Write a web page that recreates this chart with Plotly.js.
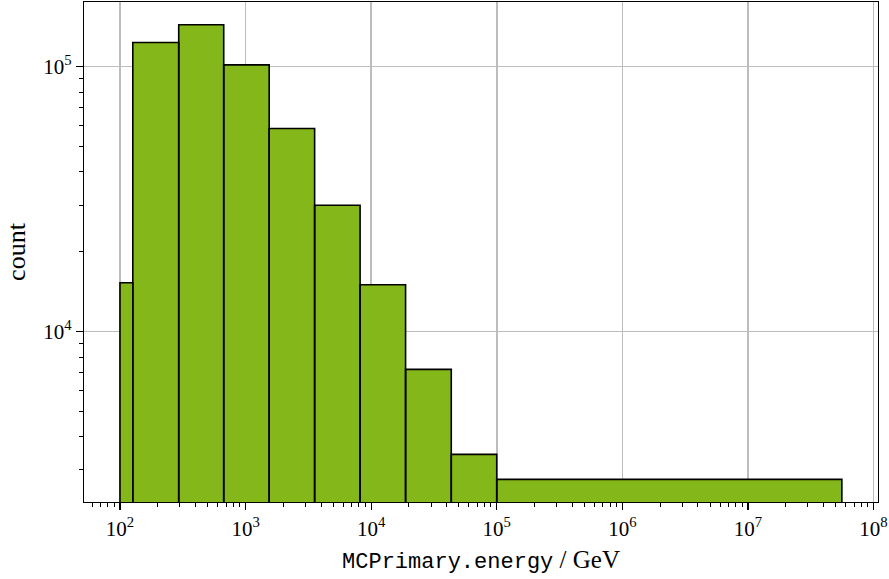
<!DOCTYPE html>
<html>
<head>
<meta charset="utf-8">
<script src="https://cdn.plot.ly/plotly-3.0.1.min.js"></script>
<style>
  html, body { margin: 0; padding: 0; background: #ffffff; }
  #chart { width: 889px; height: 579px; }
</style>
</head>
<body>
<div id="chart"></div>
<script>
// Histogram of primary energies: bin edges (GeV) and the count in each bin
const binEdges = [100, 126.5, 293.6, 670, 1542, 3548, 8166, 18800, 43450, 100000, 56000000];
const binCounts = [15260, 123200, 143900, 101500, 58350, 29970, 15000, 7190, 3434, 2764];

// Decade tick positions and their labels
const xTickVals = [1e2, 1e3, 1e4, 1e5, 1e6, 1e7, 1e8];
const xTickText = ['10<sup>2</sup>', '10<sup>3</sup>', '10<sup>4</sup>', '10<sup>5</sup>',
                   '10<sup>6</sup>', '10<sup>7</sup>', '10<sup>8</sup>'];
const yTickVals = [1e4, 1e5];
const yTickText = ['10<sup>4</sup>', '10<sup>5</sup>'];

// Each bin becomes a closed step outline; segments separated by null gaps
const floorY = 1;  // below the visible range, so bars reach the axis
const bx = [], by = [];
for (let i = 0; i < binCounts.length; i++) {
  const x0 = binEdges[i], x1 = binEdges[i + 1], c = binCounts[i];
  bx.push(x0, x0, x1, x1, x0, null);
  by.push(floorY, c, c, floorY, floorY, null);
}

const serif = 'Liberation Serif, Times New Roman, serif';
const mono = 'Liberation Mono, DejaVu Sans Mono, monospace';

const bars = {
  type: 'scatter',
  mode: 'lines',
  x: bx,
  y: by,
  fill: 'toself',
  fillcolor: '#84b71a',
  line: { color: '#000000', width: 1.6 },
  connectgaps: false,
  hoverinfo: 'skip',
  showlegend: false
};

const axisCommon = {
  type: 'log',
  showline: true,
  linecolor: '#000000',
  linewidth: 1.3,
  mirror: true,
  ticks: 'outside',
  ticklen: 7,
  tickwidth: 1.2,
  tickcolor: '#000000',
  showgrid: true,
  gridcolor: '#bdbdbd',
  gridwidth: 1.6,
  zeroline: false,
  tickmode: 'array',
  tickfont: { family: serif, size: 21, color: '#000000' },
  minor: {
    ticks: 'outside',
    ticklen: 4,
    tickwidth: 1,
    tickcolor: '#000000',
    showgrid: false,
    dtick: 'D1'
  }
};

const layout = {
  width: 889,
  height: 579,
  margin: { l: 84, r: 10.5, t: 2, b: 77 },
  paper_bgcolor: '#ffffff',
  plot_bgcolor: '#ffffff',
  xaxis: Object.assign({}, axisCommon, {
    range: [1.7135, 8.036],
    tickvals: xTickVals,
    ticktext: xTickText,
    title: {
      text: '<span style="font-family:' + mono + ';font-size:22px">MCPrimary.energy</span> / GeV',
      font: { family: serif, size: 25, color: '#000000' },
      standoff: 11
    }
  }),
  yaxis: Object.assign({}, axisCommon, {
    range: [3.356, 5.2438],
    tickvals: yTickVals,
    ticktext: yTickText,
    title: {
      text: 'count',
      font: { family: serif, size: 26, color: '#000000' },
      standoff: 10
    }
  })
};

Plotly.newPlot('chart', [bars], layout, { staticPlot: true, displayModeBar: false });
</script>
</body>
</html>
